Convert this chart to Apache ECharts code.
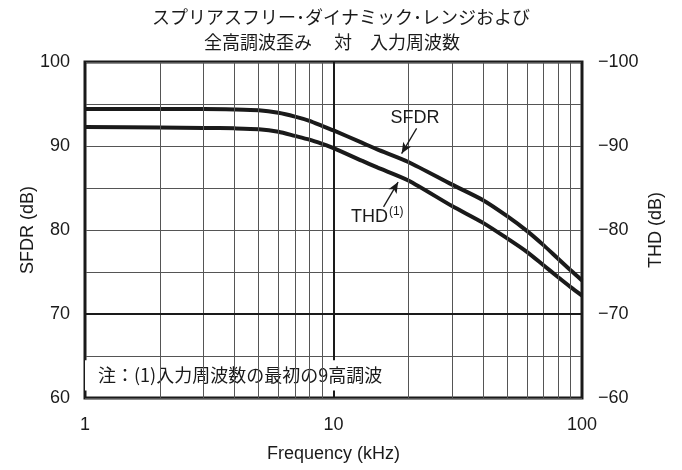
<!DOCTYPE html>
<html>
<head>
<meta charset="utf-8">
<script src="https://cdn.jsdelivr.net/npm/echarts@6/dist/echarts.min.js"></script>
<style>html,body{margin:0;padding:0;background:#fff}#c{width:682px;height:470px}</style>
</head>
<body>
<div id="c"></div>
<script>
// ---- data ----
const freqs = [1, 2, 3, 4, 5, 6, 7, 8, 9, 10, 13, 15, 20, 30, 40, 50, 60, 70, 80, 90, 100];
const sfdr  = [94.4, 94.4, 94.4, 94.35, 94.25, 93.95, 93.5, 93.0, 92.4, 91.85, 90.4, 89.6, 88.1, 85.4, 83.55, 81.65, 79.9, 78.2, 76.6, 75.2, 74.0];
const thd   = [92.25, 92.2, 92.15, 92.1, 92.0, 91.7, 91.2, 90.75, 90.25, 89.75, 88.25, 87.45, 85.9, 82.85, 80.85, 79.0, 77.4, 75.8, 74.4, 73.2, 72.2];
const minorFreqs = [2, 3, 4, 5, 6, 7, 8, 9, 20, 30, 40, 50, 60, 70, 80, 90];
const leftTicks = [60, 70, 80, 90, 100];
const rightTickLabels = {60: '\u221260', 70: '\u221270', 80: '\u221280', 90: '\u221290', 100: '\u2212100'};
const titleLines = ['スプリアスフリー\uFF65ダイナミック\uFF65レンジおよび', '全高調波歪み\u3000 対\u3000入力周波数\u3000'];
const noteText = '注：(1)入力周波数の最初の9高調波';
const noteBox = [[1, 60.9], [18.5, 64.5]];
const sfdrLabel = {text: 'SFDR', at: [21.3, 93.3], arrow: [[21.6, 92.1], [18.8, 89.1]]};
const thdLabel = {text: 'THD', at: [15.0, 81.6], arrow: [[15.9, 82.75], [18.2, 85.7]]};

const FONT = '"Liberation Sans", "Noto Sans CJK JP", sans-serif';
const CJK = '"Noto Sans CJK JP", sans-serif';
const INK = '#1a1a1a';
const FS = 18;

const chart = echarts.init(document.getElementById('c'));
const zip = (xs, ys) => xs.map((x, i) => [x, ys[i]]);

chart.setOption({
  animation: false,
  backgroundColor: '#fff',
  textStyle: {fontFamily: FONT},
  title: {
    text: titleLines.join('\n'),
    left: 'center', top: 0,
    textStyle: {fontFamily: CJK, fontSize: FS, fontWeight: 'normal', color: INK, lineHeight: 25}
  },
  grid: {left: 85, right: 100, top: 62, bottom: 72, show: true, borderColor: INK, borderWidth: 3, backgroundColor: 'transparent'},
  xAxis: {
    type: 'log', logBase: 10, min: 1, max: 100,
    name: 'Frequency (kHz)', nameLocation: 'middle', nameGap: 47, nameMoveOverlap: false,
    nameTextStyle: {fontSize: FS, color: INK, fontFamily: FONT},
    axisLine: {show: false}, axisTick: {show: false},
    axisLabel: {fontSize: FS, color: INK, margin: 18, fontFamily: FONT},
    splitLine: {show: true, lineStyle: {color: INK, width: 2}}
  },
  yAxis: [{
    type: 'value', min: 60, max: 100, interval: 10,
    name: 'SFDR (dB)', nameLocation: 'middle', nameGap: 48, nameRotate: 90, nameMoveOverlap: false,
    nameTextStyle: {fontSize: FS, color: INK, fontFamily: FONT},
    axisLine: {show: false}, axisTick: {show: false},
    axisLabel: {fontSize: FS, color: INK, margin: 15, fontFamily: FONT,
      formatter: v => leftTicks.includes(v) ? String(v) : ''},
    splitLine: {show: true, lineStyle: {color: '#555', width: 1}},
    minorTick: {show: false, splitNumber: 2},
    minorSplitLine: {show: true, lineStyle: {color: '#555', width: 1}}
  }, {
    type: 'value', min: 60, max: 100, interval: 10, position: 'right',
    name: 'THD (dB)', nameLocation: 'middle', nameGap: 65, nameRotate: 90, nameMoveOverlap: false,
    nameTextStyle: {fontSize: FS, color: INK, fontFamily: FONT},
    axisLine: {show: false}, axisTick: {show: false},
    axisLabel: {fontSize: FS, color: INK, margin: 16, fontFamily: FONT,
      formatter: v => rightTickLabels[v] || ''},
    splitLine: {show: false}
  }],
  series: [
    {
      name: 'grid', type: 'line', data: [], z: 1, silent: true,
      markLine: {
        silent: true, symbol: ['none', 'none'], label: {show: false}, animation: false,
        data: minorFreqs.map(f => ({xAxis: f, lineStyle: {color: '#555', width: 1, type: 'solid'}}))
          .concat([{yAxis: 70, lineStyle: {color: INK, width: 2, type: 'solid'}}])
      }
    },
    {
      name: 'note', type: 'line', data: [], z: 2, silent: true,
      markArea: {
        silent: true,
        itemStyle: {color: '#fff', opacity: 1},
        label: {show: true, position: 'insideLeft', distance: 13, formatter: noteText,
          fontFamily: CJK, fontSize: FS, color: INK},
        data: [[{coord: noteBox[0]}, {coord: noteBox[1]}]]
      }
    },
    {
      name: 'SFDR', type: 'line', data: zip(freqs, sfdr), smooth: 0.25, showSymbol: false, z: 3,
      lineStyle: {color: INK, width: 4}, silent: true,
      markLine: {
        silent: true, symbol: ['none', 'arrow'], symbolSize: [7, 11], label: {show: false},
        lineStyle: {color: INK, width: 1.3, type: 'solid'},
        data: [[{coord: sfdrLabel.arrow[0]}, {coord: sfdrLabel.arrow[1]}],
               [{coord: thdLabel.arrow[0]}, {coord: thdLabel.arrow[1]}]]
      },
      markPoint: {
        silent: true, symbol: 'circle', symbolSize: 0,
        data: [
          {coord: sfdrLabel.at, label: {show: true, position: 'inside', formatter: sfdrLabel.text, fontSize: FS, color: INK, fontFamily: FONT}},
          {coord: thdLabel.at, label: {show: true, position: 'inside', formatter: '{a|' + thdLabel.text + '}{s|(1)}',
            rich: {a: {fontSize: FS, color: INK, fontFamily: FONT}, s: {fontSize: 12, color: INK, fontFamily: FONT, verticalAlign: 'top', padding: [0, 0, 9, 1]}}}}
        ]
      }
    },
    {
      name: 'THD', type: 'line', data: zip(freqs, thd), smooth: 0.25, showSymbol: false, z: 3,
      lineStyle: {color: INK, width: 4}, silent: true
    }
  ]
});
</script>
</body>
</html>
